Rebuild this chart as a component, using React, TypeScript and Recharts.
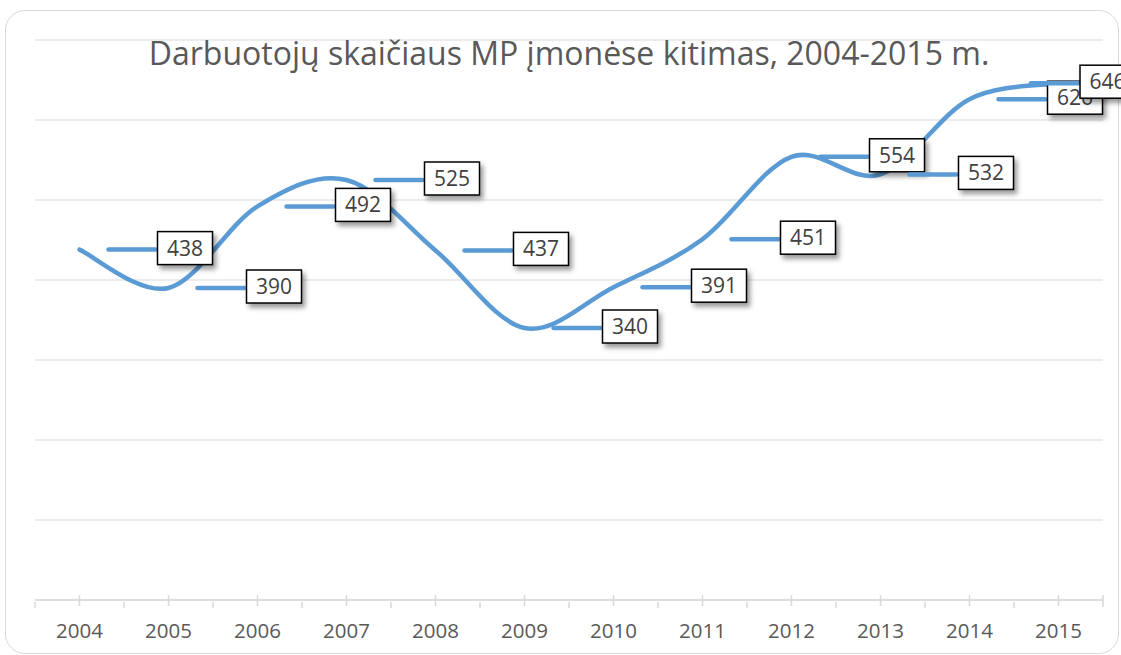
import React from "react";
import { LineChart, Line, XAxis, YAxis, CartesianGrid, LabelList } from "recharts";

// Darbuotojų skaičius MP įmonėse (tūkst.), 2004–2015
const years = ["2004", "2005", "2006", "2007", "2008", "2009", "2010", "2011", "2012", "2013", "2014", "2015"];
const employees = [438, 390, 492, 525, 437, 340, 391, 451, 554, 532, 626, 646];
const yTicks = [0, 100, 200, 300, 400, 500, 600, 700];
const title = "Darbuotojų skaičiaus MP įmonėse kitimas, 2004-2015 m.";

const W = 1121;
const H = 655;
const PLOT_LEFT = 35;
const PLOT_RIGHT = 1103;
const STEP = (PLOT_RIGHT - PLOT_LEFT) / years.length;
const BLUE = "#5B9BD5";
const GRID = "#d9d9d9";
const FONT = "'Open Sans', 'Noto Sans', sans-serif";

const data = years.map((year, i) => ({ year, value: employees[i] }));

// Excel-like smoothed line (Catmull-Rom style bezier)
function excelCurve(context: any) {
  let pts: number[][] = [];
  return {
    areaStart() {},
    areaEnd() {},
    lineStart() {
      pts = [];
    },
    point(x: number, y: number) {
      pts.push([+x, +y]);
    },
    lineEnd() {
      const n = pts.length;
      if (!n) return;
      context.moveTo(pts[0][0], pts[0][1]);
      for (let i = 0; i < n - 1; i++) {
        const p0 = pts[Math.max(i - 1, 0)];
        const p1 = pts[i];
        const p2 = pts[i + 1];
        const p3 = pts[Math.min(i + 2, n - 1)];
        context.bezierCurveTo(
          p1[0] + (p2[0] - p0[0]) / 6,
          p1[1] + (p2[1] - p0[1]) / 6,
          p2[0] - (p3[0] - p1[0]) / 6,
          p2[1] - (p3[1] - p1[1]) / 6,
          p2[0],
          p2[1]
        );
      }
    },
  };
}

function YearTick(props: any) {
  const { x, y, payload, index } = props;
  const last = index === years.length - 1;
  return (
    <g>
      <line x1={x} x2={x} y1={y - 7} y2={y + 4} stroke={GRID} strokeWidth={1.5} />
      <line x1={x - STEP / 2} x2={x - STEP / 2} y1={y} y2={y + 6} stroke={GRID} strokeWidth={1.5} />
      {last && <line x1={x + STEP / 2} x2={x + STEP / 2} y1={y - 7} y2={y + 5} stroke={GRID} strokeWidth={1.5} />}
      <text x={x} y={y + 36} textAnchor="middle" fill="#595959" fontSize={20.5} fontFamily={FONT}>
        {payload.value}
      </text>
    </g>
  );
}

function BoxLabel(props: any) {
  const x = props.viewBox?.x ?? props.x;
  const y = props.viewBox?.y ?? props.y;
  const { value } = props;
  if (x == null || y == null) return null;
  // Excel pushes the last label back inside the chart area
  const boxLeft = Math.min(x + 78, 1080);
  return (
    <g>
      <line x1={boxLeft - 49} x2={boxLeft - 2} y1={y} y2={y} stroke={BLUE} strokeWidth={4.5} strokeLinecap="round" />
      <rect x={boxLeft} y={y - 18} width={55} height={33} fill="#fff" stroke="#000" strokeWidth={1.5} filter="url(#lblShadow)" />
      <text x={boxLeft + 27.5} y={y + 6} textAnchor="middle" fill="#404040" fontSize={21} fontFamily={FONT}>
        {value}
      </text>
    </g>
  );
}

export default function App() {
  return (
    <div style={{ position: "fixed", left: 0, top: 0, width: W, height: H, overflow: "hidden", background: "#fff" }}>
      <div
        style={{
          position: "absolute",
          left: 5,
          top: 10,
          width: 1112,
          height: 642,
          border: `1px solid ${GRID}`,
          borderRadius: 20,
        }}
      />
      <div style={{ position: "absolute", left: 0, top: 0 }}>
        <LineChart width={W} height={H} data={data} margin={{ top: 40, right: W - PLOT_RIGHT, bottom: 25, left: PLOT_LEFT }}>
          <CartesianGrid vertical={false} stroke={GRID} strokeWidth={1.2} />
          <XAxis
            dataKey="year"
            interval={0}
            height={30}
            tickSize={0}
            tickLine={false}
            axisLine={{ stroke: GRID, strokeWidth: 1.5 }}
            padding={{ left: STEP / 2, right: STEP / 2 }}
            tick={<YearTick />}
          />
          <YAxis hide domain={[0, 700]} ticks={yTicks} />
          <Line
            dataKey="value"
            type={excelCurve as any}
            stroke={BLUE}
            strokeWidth={4.5}
            strokeLinecap="round"
            dot={false}
            activeDot={false}
            isAnimationActive={false}
          >
            <LabelList dataKey="value" content={<BoxLabel />} />
          </Line>
        </LineChart>
      </div>
      <svg width={W} height={H} style={{ position: "absolute", left: 0, top: 0, pointerEvents: "none" }}>
        <defs>
          <filter id="lblShadow" x="-30%" y="-30%" width="170%" height="180%">
            <feDropShadow dx="3" dy="4" stdDeviation="2.5" floodColor="#000" floodOpacity="0.4" />
          </filter>
        </defs>
        <text x={569} y={65} textAnchor="middle" fill="#595959" fontSize={32} fontFamily={FONT}>
          {title}
        </text>
      </svg>
    </div>
  );
}
